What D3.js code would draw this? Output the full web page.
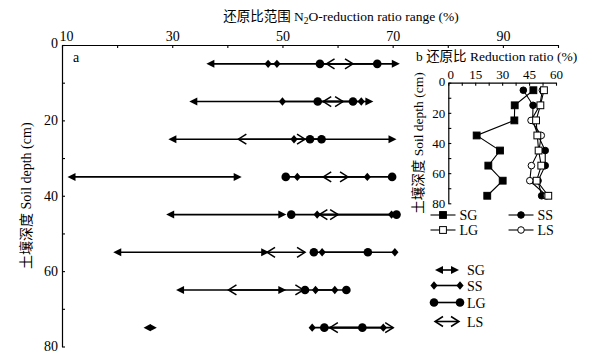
<!DOCTYPE html>
<html><head><meta charset="utf-8">
<script src="https://cdn.jsdelivr.net/npm/d3@7"></script>
<style>
body{margin:0;background:#fff;}
svg{display:block;}
text{font-family:"Liberation Serif","Times New Roman","Noto Sans CJK SC",serif;fill:#000;}
</style></head><body>
<svg id="c" width="609" height="358"></svg>
<script>
// ---------- Data ----------
const depths = [5, 15, 25, 35, 45, 55, 65, 75];
const treatments = ["SG", "SS", "LG", "LS"];
// Panel a: N2O reduction ratio ranges (%)
const sgMin = [36.2, 33.1, 29.3, 11.0, 28.9, 19.3, 30.7, 24.8];
const sgMax = [71.3, 66.5, 70.7, 42.6, 50.7, 47.6, 50.7, 27.2];
const ssMin = [47.4, 50.0, 52.1, 52.7, 56.3, 57.2, 56.0, 55.4];
const ssMax = [49.0, 64.3, 57.0, 65.4, 69.8, 70.4, 59.5, 68.3];
const lgMin = [56.8, 56.4, 55.0, 50.6, 51.6, 55.7, 54.1, 57.6];
const lgMax = [67.2, 62.8, 57.1, 69.9, 70.7, 65.5, 61.6, 64.5];
const lsMin = [58.0, 57.4, 42.0, 57.4, 56.7, 47.2, 40.2, 58.6];
const lsMax = [62.8, 61.0, 54.1, 61.9, 60.1, 54.1, 53.8, 70.1];
// Panel b: reduction ratio (%)
const sgRatio = [47.4, 37.0, 36.8, 15.8, 28.8, 22.3, 30.3, 21.7];
const ssRatio = [41.8, 47.2, 47.0, 50.0, 54.0, 54.0, 50.0, 52.0];
const lgRatio = [53.3, 51.3, 48.9, 49.6, 50.3, 51.8, 49.2, 55.7];
const lsRatio = [52.4, 51.0, 46.1, 51.8, 50.5, 46.3, 45.4, 54.8];
// Axis ticks
const xTicksA = [10, 20, 30, 40, 50, 60, 70, 80, 90, 100];
const xLabelsA = [10, 30, 50, 70, 90];
const yTicksA = [0, 10, 20, 30, 40, 50, 60, 70, 80];
const yLabelsA = [0, 20, 40, 60, 80];
const xTicksB = [0, 7.5, 15, 22.5, 30, 37.5, 45, 52.5, 60];
const xLabelsB = [0, 15, 30, 45, 60];
const yTicksB = [0, 10, 20, 30, 40, 50, 60, 70, 80];
const yLabelsB = [0, 20, 40, 60, 80];

// ---------- Setup ----------
const svg = d3.select("#c");
const x = d3.scaleLinear().domain([10, 100]).range([62, 558]);
const y = d3.scaleLinear().domain([0, 80]).range([45, 346.5]);

function styleAxis(g, fs) {
  g.select(".domain").attr("stroke", "#000").attr("stroke-width", 1.2);
  g.selectAll(".tick line").attr("stroke", "#000").attr("stroke-width", 1.1);
  g.selectAll(".tick text").attr("font-size", fs).attr("fill", "#000")
    .style("font-family", "Liberation Serif, serif");
}

// ---------- Panel a axes ----------
const gx = svg.append("g").attr("transform", `translate(0,${y(0)})`)
  .call(d3.axisTop(x).tickValues(xTicksA).tickSize(-3).tickSizeOuter(0).tickPadding(4)
    .tickFormat(d => xLabelsA.includes(d) ? d : ""));
styleAxis(gx, 14);
gx.selectAll(".tick text").filter(d => d === 10).attr("dx", 4);
const gy = svg.append("g").attr("transform", `translate(${x(10)},0)`)
  .call(d3.axisLeft(y).tickValues(yTicksA).tickSize(-3).tickSizeOuter(0).tickPadding(4)
    .tickFormat(d => yLabelsA.includes(d) ? d : ""));
styleAxis(gy, 14);
gy.selectAll(".tick text").filter(d => d === 0).attr("dy", "0.2em");

svg.append("text").attr("x", 341).attr("y", 21).attr("text-anchor", "middle")
  .attr("font-size", 13.5)
  .html('还原比范围 N<tspan dy="3" font-size="9.5">2</tspan><tspan dy="-3">O-reduction ratio range (%)</tspan>');
svg.append("text").attr("transform", `translate(31,${(y(0)+y(80))/2}) rotate(-90)`)
  .attr("text-anchor", "middle").attr("font-size", 14).text("土壤深度 Soil depth (cm)");
svg.append("text").attr("x", 73).attr("y", 62).attr("font-size", 14).text("a");

// ---------- Marker shapes ----------
const LW = 1.6;
function arrowHead(g, px, py, dir, L = 8, hw = 4) {
  g.append("path").attr("d", `M${px},${py} L${px - dir * L},${py - hw} L${px - dir * L},${py + hw} Z`)
    .attr("fill", "#000");
}
function diamond(g, px, py, hw = 3.6, hh = 4.2) {
  g.append("path").attr("d", `M${px - hw},${py} L${px},${py - hh} L${px + hw},${py} L${px},${py + hh} Z`)
    .attr("fill", "#000");
}
function dot(g, px, py, r = 4.3) {
  g.append("circle").attr("cx", px).attr("cy", py).attr("r", r).attr("fill", "#000");
}
function chevron(g, px, py, dir, L = 8, hh = 5) {
  g.append("path").attr("d", `M${px - dir * L},${py - hh} L${px},${py} L${px - dir * L},${py + hh}`)
    .attr("fill", "none").attr("stroke", "#000").attr("stroke-width", 1.5);
}
function seg(g, x1, x2, py) {
  g.append("line").attr("x1", x1).attr("x2", x2).attr("y1", py).attr("y2", py)
    .attr("stroke", "#000").attr("stroke-width", LW);
}

// ---------- Panel a marks ----------
const rows = svg.append("g");
depths.forEach((d, i) => {
  const py = y(d);
  const g = rows.append("g");
  seg(g, x(sgMin[i]) + 4, x(sgMax[i]) - 4, py);
  seg(g, x(lsMin[i]), x(lsMax[i]), py);
  seg(g, x(ssMin[i]), x(ssMax[i]), py);
  seg(g, x(lgMin[i]), x(lgMax[i]), py);
  if (sgMax[i] - sgMin[i] < 5) {
    arrowHead(g, x(sgMin[i]), py, -1, 6.8, 3.6);
    arrowHead(g, x(sgMax[i]), py, 1, 6.8, 3.6);
  } else {
    arrowHead(g, x(sgMin[i]), py, -1);
    arrowHead(g, x(sgMax[i]), py, 1);
  }
  chevron(g, x(lsMin[i]), py, -1);
  chevron(g, x(lsMax[i]), py, 1);
  diamond(g, x(ssMin[i]), py);
  diamond(g, x(ssMax[i]), py);
  dot(g, x(lgMin[i]), py);
  dot(g, x(lgMax[i]), py);
});

// ---------- Panel a legend ----------
const legA = svg.append("g");
const legAY = [270, 285.5, 302.5, 321.5];
treatments.forEach((t, k) => {
  const py = legAY[k], x1 = 434, x2 = 460;
  if (t === "SG") { seg(legA, x1 + 5, x2 - 5, py); arrowHead(legA, x1 + 1, py, -1); arrowHead(legA, x2 - 1, py, 1); }
  if (t === "SS") { seg(legA, x1, x2, py); diamond(legA, x1, py); diamond(legA, x2, py); }
  if (t === "LG") { seg(legA, x1, x2, py); dot(legA, x1, py); dot(legA, x2, py); }
  if (t === "LS") { seg(legA, x1 + 2, x2 - 2, py); chevron(legA, x1 + 1, py, -1); chevron(legA, x2 - 1, py, 1); }
  legA.append("text").attr("x", 467).attr("y", py + 5).attr("font-size", 14).text(t);
});

// ---------- Panel b ----------
const xb = d3.scaleLinear().domain([0, 60]).range([448.3, 556]);
const yb = d3.scaleLinear().domain([0, 80]).range([82.7, 203.3]);
const gxb = svg.append("g").attr("transform", `translate(0,${yb(0)})`)
  .call(d3.axisTop(xb).tickValues(xTicksB).tickSize(-3).tickSizeOuter(0).tickPadding(4)
    .tickFormat(d => xLabelsB.includes(d) ? d : ""));
styleAxis(gxb, 13);
gxb.selectAll(".tick text").filter(d => d === 0).attr("dx", 2);
const gyb = svg.append("g").attr("transform", `translate(${xb(0)},0)`)
  .call(d3.axisLeft(yb).tickValues(yTicksB).tickSize(-3).tickSizeOuter(0).tickPadding(3)
    .tickFormat(d => yLabelsB.includes(d) ? d : ""));
styleAxis(gyb, 13);
gyb.selectAll(".tick text").filter(d => d === 0).attr("dy", "0.25em");

svg.append("text").attr("x", 416).attr("y", 61).attr("font-size", 13.5)
  .text("b 还原比 Reduction ratio (%)");
svg.append("text").attr("transform", `translate(423,${(yb(0)+yb(80))/2}) rotate(-90)`)
  .attr("text-anchor", "middle").attr("font-size", 13.5).text("土壤深度 Soil depth (cm)");

const seriesB = [
  {name: "SG", vals: sgRatio, shape: "square", fill: "#000"},
  {name: "SS", vals: ssRatio, shape: "circle", fill: "#000"},
  {name: "LS", vals: lsRatio, shape: "circle", fill: "#fff"},
  {name: "LG", vals: lgRatio, shape: "square", fill: "#fff"},
];
const lineB = d3.line().x(d => xb(d.v)).y(d => yb(d.d));
function markerB(g, s, px, py) {
  if (s.shape === "square") {
    g.append("rect").attr("x", px - 3.4).attr("y", py - 3.4).attr("width", 6.8).attr("height", 6.8)
      .attr("fill", s.fill).attr("stroke", "#000").attr("stroke-width", 1);
  } else {
    g.append("circle").attr("cx", px).attr("cy", py).attr("r", 3.3)
      .attr("fill", s.fill).attr("stroke", "#000").attr("stroke-width", 1);
  }
}
const gb = svg.append("g");
seriesB.forEach(s => {
  const pts = depths.map((d, i) => ({d, v: s.vals[i]}));
  gb.append("path").attr("d", lineB(pts)).attr("fill", "none").attr("stroke", "#000").attr("stroke-width", 1.1);
});
seriesB.forEach(s => {
  depths.forEach((d, i) => markerB(gb, s, xb(s.vals[i]), yb(d)));
});

// Panel b legend
const legB = svg.append("g");
const legBPos = {SG: [430.5, 215], SS: [508.5, 215], LG: [430.5, 230], LS: [508.5, 230]};
seriesB.forEach(s => {
  const [lx, ly] = legBPos[s.name];
  legB.append("line").attr("x1", lx).attr("x2", lx + 25).attr("y1", ly).attr("y2", ly)
    .attr("stroke", "#000").attr("stroke-width", 1.1);
  markerB(legB, s, lx + 12.5, ly);
  legB.append("text").attr("x", lx + 29).attr("y", ly + 5).attr("font-size", 14).text(s.name);
});
</script></body></html>
